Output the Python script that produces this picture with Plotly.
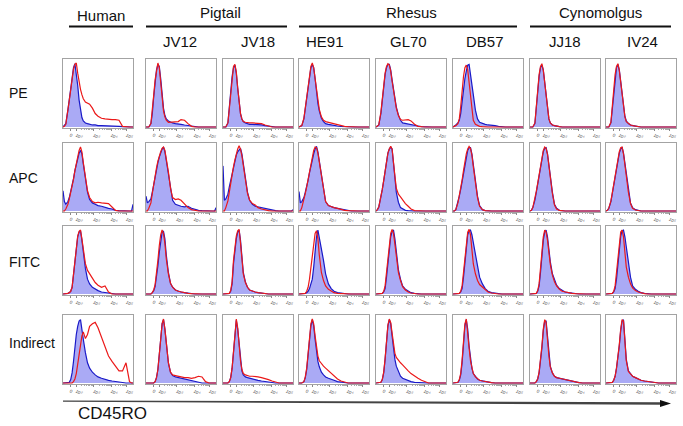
import math
import plotly.graph_objects as go

W, H = 683, 426

row_labels = ["PE", "APC", "FITC", "Indirect"]
col_labels = ["", "JV12", "JV18", "HE91", "GL70", "DB57", "JJ18", "IV24"]
species_labels = ["Human", "Pigtail", "Rhesus", "Cynomolgus"]
axis_title = "CD45RO"
tick_vals = [0.106, 0.19, 0.44, 0.69, 0.91]
tick_text = ["0", "10<sup>2</sup>", "10<sup>3</sup>", "10<sup>4</sup>", "10<sup>5</sup>"]

# fluorescence bins (display scale, 0..1 of the axis)
x_bins = [0.00, 0.02, 0.04, 0.07, 0.09, 0.11, 0.13, 0.15, 0.17, 0.19, 0.21, 0.23, 0.25, 0.27, 0.29, 0.32,
          0.35, 0.38, 0.42, 0.46, 0.50, 0.55, 0.60, 0.65, 0.70, 0.75, 0.80, 0.85, 0.90, 0.95, 0.98, 1.00]

# ---- PE row (% of mode) ----
pe_human_blue = [0, 2, 5, 25, 42, 55, 75, 88, 94, 80, 62, 40, 24, 14, 9, 6, 5, 4, 3, 3, 2, 2, 2, 1.5, 1.5, 1, 1, 0.5, 0, 0, 0, 0]
pe_human_red = [0, 1, 4, 22, 40, 55, 73, 86, 93, 95, 80, 66, 56, 48, 42, 37, 36, 34, 28, 20, 16, 13, 12, 11, 11, 11, 10, 1, 0, 0, 0, 0]
pe_jv12_blue = [0, 0, 0, 5, 20, 45, 68, 85, 93, 90, 72, 45, 28, 17, 12, 9, 7, 6, 5, 4, 4, 3, 2, 1, 0.5, 0, 0, 0, 0, 0, 0, 0]
pe_jv12_red = [0, 0, 0, 5, 22, 47, 70, 86, 95, 88, 68, 40, 24, 15, 10, 7, 7, 7, 8, 8, 11, 10, 5, 1, 0, 0, 0, 0, 0, 0, 0, 0]
pe_jv18_blue = [0, 0, 0, 6, 25, 52, 75, 88, 92, 80, 58, 35, 20, 12, 8, 6, 5, 4, 4, 4, 3, 3, 2, 1, 0.5, 0, 0, 0, 0, 0, 0, 0]
pe_jv18_red = [0, 0, 0, 6, 27, 55, 78, 90, 93, 82, 58, 35, 20, 12, 8, 7, 6, 6, 6, 6, 6, 5, 3, 1, 0, 0, 0, 0, 0, 0, 0, 0]
pe_he91_blue = [0, 1, 2, 12, 28, 45, 62, 77, 88, 93, 88, 72, 52, 35, 24, 13, 8, 5, 4, 3, 2, 1.5, 1, 0.5, 0, 0, 0, 0, 0, 0, 0, 0]
pe_he91_red = [0, 1, 2, 13, 30, 47, 64, 80, 90, 95, 88, 72, 54, 38, 26, 15, 10, 8, 7, 5, 4, 3, 2, 1, 0.5, 0, 0, 0, 0, 0, 0, 0]
pe_gl70_blue = [0, 1, 3, 20, 40, 57, 78, 88, 93, 93, 85, 70, 55, 42, 30, 18, 10, 6, 5, 4, 3, 2.5, 1.5, 0.5, 0, 0, 0, 0, 0, 0, 0, 0]
pe_gl70_red = [0, 1, 3, 22, 42, 60, 80, 90, 94, 92, 83, 68, 52, 40, 28, 17, 11, 10, 11, 11, 9, 4, 1, 0, 0, 0, 0, 0, 0, 0, 0, 0]
pe_db57_blue = [0, 1, 3, 6, 10, 20, 40, 58, 72, 83, 92, 93, 80, 62, 48, 25, 12, 7, 5, 4, 3, 3, 2, 1, 0, 0, 0, 0, 0, 0, 0, 0]
pe_db57_red = [0, 1, 2, 5, 12, 30, 55, 75, 88, 92, 85, 65, 40, 20, 10, 4, 2, 1, 0.5, 0, 0, 0, 0, 0, 0, 0, 0, 0, 0, 0, 0, 0]
pe_jj18_blue = [0, 0, 0, 5, 28, 55, 75, 88, 92, 85, 68, 45, 25, 12, 6, 3, 2, 1, 0.5, 0, 0, 0, 0, 0, 0, 0, 0, 0, 0, 0, 0, 0]
pe_jj18_red = [0, 0, 0, 6, 30, 58, 78, 90, 94, 84, 66, 44, 24, 12, 6, 3, 2, 1, 0.5, 0, 0, 0, 0, 0, 0, 0, 0, 0, 0, 0, 0, 0]
pe_iv24_blue = [0, 0, 0, 6, 28, 55, 76, 88, 93, 85, 68, 48, 30, 16, 9, 5, 3, 2, 1, 0.5, 0, 0, 0, 0, 0, 0, 0, 0, 0, 0, 0, 0]
pe_iv24_red = [0, 0, 0, 7, 30, 57, 78, 90, 94, 84, 66, 46, 28, 15, 8, 5, 3, 2, 1, 0.5, 0, 0, 0, 0, 0, 0, 0, 0, 0, 0, 0, 0]

# ---- APC row ----
apc_human_blue = [30, 14, 10, 14, 20, 28, 36, 48, 60, 70, 78, 86, 90, 85, 70, 48, 28, 17, 12, 10, 8, 7, 5, 4, 3, 1, 0.5, 0, 0, 0, 0, 10]
apc_human_red = [0, 0, 3, 10, 18, 27, 36, 47, 60, 72, 82, 90, 95, 88, 72, 50, 30, 20, 14, 12, 13, 12, 12, 11, 6, 1, 0, 0, 0, 0, 0, 0]
apc_jv12_blue = [22, 12, 14, 18, 28, 40, 50, 62, 72, 80, 87, 92, 95, 88, 75, 55, 32, 16, 10, 8, 7, 6, 7, 4, 2, 1, 0.5, 0, 0, 0, 0, 5]
apc_jv12_red = [0, 0, 4, 12, 26, 40, 52, 64, 74, 82, 88, 93, 95, 90, 78, 58, 34, 20, 17, 18, 16, 10, 5, 2, 0.5, 0, 0, 0, 0, 0, 0, 0]
apc_jv18_blue = [67, 16, 18, 25, 36, 46, 56, 67, 75, 83, 88, 91, 93, 85, 70, 48, 28, 16, 10, 7, 6, 5, 4, 3, 1.5, 0.5, 0, 0, 0, 0, 0, 2]
apc_jv18_red = [0, 0, 5, 15, 28, 42, 54, 66, 76, 85, 92, 97, 92, 82, 66, 45, 26, 16, 11, 9, 5, 3, 1.5, 0.5, 0, 0, 0, 0, 0, 0, 0, 0]
apc_he91_blue = [29, 12, 14, 20, 28, 36, 46, 57, 68, 77, 85, 92, 96, 88, 74, 52, 28, 14, 8, 6, 5, 4, 3, 1.5, 0.5, 0, 0, 0, 0, 0, 0, 0]
apc_he91_red = [0, 0, 5, 16, 26, 36, 48, 60, 72, 82, 90, 95, 94, 86, 72, 50, 28, 14, 8, 6, 5, 4, 2, 1, 0.5, 0, 0, 0, 0, 0, 0, 0]
apc_gl70_blue = [0, 2, 6, 20, 32, 45, 60, 76, 86, 92, 95, 92, 75, 50, 28, 13, 5, 3, 1, 0.5, 0, 0, 0, 0, 0, 0, 0, 0, 0, 0, 0, 0]
apc_gl70_red = [0, 2, 6, 20, 32, 45, 60, 76, 86, 92, 96, 92, 76, 52, 34, 25, 21, 16, 11, 7, 3, 0.5, 0, 0, 0, 0, 0, 0, 0, 0, 0, 0]
apc_db57_blue = [0, 0, 2, 12, 22, 32, 44, 58, 72, 83, 90, 94, 94, 85, 68, 42, 22, 8, 2, 0.5, 0, 0, 0, 0, 0, 0, 0, 0, 0, 0, 0, 0]
apc_db57_red = [0, 0, 2, 12, 23, 33, 46, 60, 74, 85, 92, 96, 93, 83, 66, 40, 20, 7, 2, 0.5, 0, 0, 0, 0, 0, 0, 0, 0, 0, 0, 0, 0]
apc_jj18_blue = [0, 1, 5, 16, 28, 40, 52, 66, 78, 88, 93, 94, 85, 68, 50, 28, 10, 4, 1, 0, 0, 0, 0, 0, 0, 0, 0, 0, 0, 0, 0, 0]
apc_jj18_red = [0, 1, 5, 17, 29, 41, 54, 68, 80, 90, 95, 93, 84, 66, 48, 26, 9, 3, 1, 0, 0, 0, 0, 0, 0, 0, 0, 0, 0, 0, 0, 0]
apc_iv24_blue = [0, 1, 4, 14, 26, 38, 50, 64, 76, 86, 92, 95, 86, 70, 52, 30, 12, 5, 2, 1, 0, 0, 0, 0, 0, 0, 0, 0, 0, 0, 0, 0]
apc_iv24_red = [0, 1, 4, 15, 27, 40, 52, 66, 78, 88, 94, 95, 85, 68, 50, 28, 11, 4, 1.5, 0.5, 0, 0, 0, 0, 0, 0, 0, 0, 0, 0, 0, 0]

# ---- FITC row ----
fitc_human_blue = [0, 0, 0, 1, 2, 4, 10, 28, 50, 72, 85, 92, 94, 80, 60, 38, 22, 15, 10, 7, 5, 3, 2, 1, 0, 0, 0, 0, 0, 0, 0, 0]
fitc_human_red = [0, 0, 0, 1, 2, 4, 10, 28, 50, 72, 86, 93, 95, 82, 64, 45, 35, 30, 22, 17, 13, 10, 12, 3, 0, 0, 0, 0, 0, 0, 0, 0]
fitc_jv12_blue = [0, 0, 0, 0, 2, 5, 11, 25, 42, 62, 80, 92, 93, 82, 58, 32, 16, 10, 6, 4, 3, 2, 1, 0.5, 0, 0, 0, 0, 0, 0, 0, 0]
fitc_jv12_red = [0, 0, 0, 0, 2, 6, 14, 30, 50, 72, 88, 95, 90, 75, 52, 30, 16, 10, 6, 4, 3, 2, 1, 0.5, 0, 0, 0, 0, 0, 0, 0, 0]
fitc_jv18_blue = [0, 0, 0, 0, 1, 4, 15, 45, 68, 82, 92, 95, 80, 52, 32, 18, 10, 6, 4, 3, 2, 1, 0.5, 0, 0, 0, 0, 0, 0, 0, 0, 0]
fitc_jv18_red = [0, 0, 0, 0, 1, 5, 18, 50, 72, 86, 94, 96, 76, 48, 30, 17, 10, 6, 4, 3, 2, 1, 0.5, 0, 0, 0, 0, 0, 0, 0, 0, 0]
fitc_he91_blue = [0, 0, 0, 0, 1, 2, 4, 8, 14, 22, 40, 65, 85, 95, 85, 68, 50, 30, 15, 8, 4, 2, 1, 0, 0, 0, 0, 0, 0, 0, 0, 0]
fitc_he91_red = [0, 0, 0, 0, 1, 4, 10, 22, 40, 58, 78, 90, 94, 82, 58, 32, 20, 12, 7, 4, 2, 1, 0.5, 0, 0, 0, 0, 0, 0, 0, 0, 0]
fitc_gl70_blue = [0, 0, 0, 0, 1, 3, 8, 25, 48, 70, 85, 93, 95, 82, 62, 36, 22, 12, 7, 4, 2, 1, 0, 0, 0, 0, 0, 0, 0, 0, 0, 0]
fitc_gl70_red = [0, 0, 0, 0, 1, 4, 12, 32, 55, 76, 90, 96, 90, 74, 54, 32, 20, 11, 6, 3, 1.5, 0.5, 0, 0, 0, 0, 0, 0, 0, 0, 0, 0]
fitc_db57_blue = [0, 0, 0, 0, 1, 3, 8, 25, 48, 72, 88, 94, 95, 88, 75, 58, 42, 25, 15, 8, 4, 2, 1, 0, 0, 0, 0, 0, 0, 0, 0, 0]
fitc_db57_red = [0, 0, 0, 0, 1, 4, 12, 32, 55, 78, 92, 96, 88, 66, 45, 30, 20, 14, 10, 6, 3, 1.5, 0.5, 0, 0, 0, 0, 0, 0, 0, 0, 0]
fitc_jj18_blue = [0, 0, 0, 0, 1, 4, 12, 32, 58, 80, 92, 95, 85, 65, 48, 30, 20, 13, 8, 5, 3, 2, 1, 0.5, 0, 0, 0, 0, 0, 0, 0, 0]
fitc_jj18_red = [0, 0, 0, 0, 1, 5, 15, 38, 64, 85, 95, 92, 80, 60, 44, 28, 18, 12, 7, 4, 3, 2, 1, 0.5, 0, 0, 0, 0, 0, 0, 0, 0]
fitc_iv24_blue = [0, 0, 0, 0, 1, 3, 8, 22, 45, 70, 86, 94, 95, 85, 68, 45, 25, 12, 7, 4, 2, 1, 0, 0, 0, 0, 0, 0, 0, 0, 0, 0]
fitc_iv24_red = [0, 0, 0, 0, 1, 4, 12, 32, 56, 78, 92, 95, 85, 62, 40, 25, 15, 9, 5, 3, 1.5, 0.5, 0, 0, 0, 0, 0, 0, 0, 0, 0, 0]

# ---- Indirect row ----
ind_human_blue = [0, 0, 0, 0, 1, 5, 15, 32, 55, 72, 84, 92, 94, 82, 65, 45, 30, 22, 16, 12, 9, 7, 5, 4, 3, 2, 1.5, 1, 0, 0, 0, 0]
ind_human_red = [0, 0, 0, 0, 0, 0, 0, 2, 6, 14, 28, 45, 58, 70, 76, 66, 72, 84, 88, 90, 82, 68, 52, 40, 32, 24, 18, 18, 30, 2, 0, 0]
ind_jv12_blue = [0, 0, 0, 0, 0, 0, 2, 8, 20, 38, 65, 88, 94, 80, 55, 30, 16, 11, 9, 8, 7, 6, 5, 4, 2, 1, 0, 0, 0, 0, 0, 0]
ind_jv12_red = [0, 0, 0, 0, 0, 0, 2, 8, 20, 38, 65, 88, 95, 80, 55, 30, 16, 12, 11, 10, 9, 8, 8, 7, 8, 10, 9, 2, 0, 0, 0, 0]
ind_jv18_blue = [0, 0, 0, 0, 2, 8, 22, 45, 75, 93, 80, 55, 32, 18, 12, 9, 8, 7, 6, 5, 4, 3, 2, 1, 0.5, 0, 0, 0, 0, 0, 0, 0]
ind_jv18_red = [0, 0, 0, 0, 2, 8, 22, 46, 76, 95, 82, 56, 33, 20, 14, 12, 11, 10, 10, 9, 9, 8, 7, 5, 3, 1, 0, 0, 0, 0, 0, 0]
ind_he91_blue = [0, 0, 0, 2, 8, 20, 40, 65, 85, 94, 85, 65, 45, 32, 24, 16, 12, 9, 7, 5, 4, 2, 1, 0.5, 0, 0, 0, 0, 0, 0, 0, 0]
ind_he91_red = [0, 0, 0, 2, 9, 22, 42, 68, 88, 95, 88, 70, 52, 40, 33, 28, 25, 22, 18, 14, 10, 6, 3, 1, 0, 0, 0, 0, 0, 0, 0, 0]
ind_gl70_blue = [0, 0, 0, 1, 5, 15, 35, 62, 85, 94, 88, 70, 50, 35, 25, 16, 10, 7, 5, 3, 2, 1, 0.5, 0, 0, 0, 0, 0, 0, 0, 0, 0]
ind_gl70_red = [0, 0, 0, 1, 5, 16, 36, 64, 86, 95, 90, 74, 56, 44, 38, 33, 30, 27, 22, 18, 14, 10, 7, 4, 1.5, 0, 0, 0, 0, 0, 0, 0]
ind_db57_blue = [0, 0, 0, 1, 4, 12, 30, 60, 85, 94, 80, 55, 35, 22, 14, 9, 6, 4, 3, 2, 1, 0.5, 0, 0, 0, 0, 0, 0, 0, 0, 0, 0]
ind_db57_red = [0, 0, 0, 1, 5, 14, 34, 65, 88, 95, 78, 52, 33, 21, 14, 9, 6, 4, 3, 2, 1, 0.5, 0, 0, 0, 0, 0, 0, 0, 0, 0, 0]
ind_jj18_blue = [0, 0, 0, 0, 2, 6, 15, 30, 52, 78, 92, 92, 65, 42, 25, 15, 10, 8, 7, 6, 5, 4, 2, 1, 0.5, 0, 0, 0, 0, 0, 0, 0]
ind_jj18_red = [0, 0, 0, 0, 2, 6, 16, 32, 55, 80, 94, 90, 62, 40, 24, 15, 10, 8, 7, 6, 5, 4, 2, 1, 0.5, 0, 0, 0, 0, 0, 0, 0]
ind_iv24_blue = [0, 0, 0, 0, 1, 4, 10, 22, 35, 55, 78, 92, 94, 70, 35, 18, 14, 10, 8, 6, 4, 3, 2, 1, 0.5, 0, 0, 0, 0, 0, 0, 0]
ind_iv24_red = [0, 0, 0, 0, 1, 4, 10, 22, 36, 57, 80, 94, 92, 66, 33, 17, 13, 10, 8, 6, 4, 3, 2, 1, 0.5, 0, 0, 0, 0, 0, 0, 0]

panels = [
    [(pe_human_blue, pe_human_red), (pe_jv12_blue, pe_jv12_red), (pe_jv18_blue, pe_jv18_red), (pe_he91_blue, pe_he91_red),
     (pe_gl70_blue, pe_gl70_red), (pe_db57_blue, pe_db57_red), (pe_jj18_blue, pe_jj18_red), (pe_iv24_blue, pe_iv24_red)],
    [(apc_human_blue, apc_human_red), (apc_jv12_blue, apc_jv12_red), (apc_jv18_blue, apc_jv18_red), (apc_he91_blue, apc_he91_red),
     (apc_gl70_blue, apc_gl70_red), (apc_db57_blue, apc_db57_red), (apc_jj18_blue, apc_jj18_red), (apc_iv24_blue, apc_iv24_red)],
    [(fitc_human_blue, fitc_human_red), (fitc_jv12_blue, fitc_jv12_red), (fitc_jv18_blue, fitc_jv18_red), (fitc_he91_blue, fitc_he91_red),
     (fitc_gl70_blue, fitc_gl70_red), (fitc_db57_blue, fitc_db57_red), (fitc_jj18_blue, fitc_jj18_red), (fitc_iv24_blue, fitc_iv24_red)],
    [(ind_human_blue, ind_human_red), (ind_jv12_blue, ind_jv12_red), (ind_jv18_blue, ind_jv18_red), (ind_he91_blue, ind_he91_red),
     (ind_gl70_blue, ind_gl70_red), (ind_db57_blue, ind_db57_red), (ind_jj18_blue, ind_jj18_red), (ind_iv24_blue, ind_iv24_red)],
]
for row in panels:
    for b, r in row:
        assert len(b) == len(x_bins) and len(r) == len(x_bins), (len(b), len(r))

# minor (log) tick marks between the labelled decades
decade_pos = [0.19, 0.44, 0.69, 0.91]
minor_vals = []
for d0, d1 in zip(decade_pos[:-1], decade_pos[1:]):
    for k in range(2, 10):
        minor_vals.append(d0 + (d1 - d0) * math.log10(k))

# ---- geometry & style ----
col_left = [63, 146, 223, 299, 376, 453, 530, 606]
row_top = [59, 143, 226, 315]
PW, PH = 70, 69
BLUE = "rgb(25,25,200)"
FILL = "rgb(170,170,245)"
RED = "rgb(235,25,25)"
FRAME = "#a3a3a3"
FONT = "Arial, Liberation Sans, sans-serif"
TXT = "#111111"


def px(x):
    return x / W


def py(y):
    return 1 - y / H


fig = go.Figure()
axes = {}
n = 0
for ri, top in enumerate(row_top):
    for ci, left in enumerate(col_left):
        n += 1
        xa = "x" if n == 1 else f"x{n}"
        ya = "y" if n == 1 else f"y{n}"
        blue, red = panels[ri][ci]
        fig.add_trace(go.Scatter(x=x_bins, y=blue, xaxis=xa, yaxis=ya, mode="lines",
                                 line=dict(color=BLUE, width=1.2), fill="tozeroy", fillcolor=FILL,
                                 hoverinfo="skip", showlegend=False))
        fig.add_trace(go.Scatter(x=x_bins, y=red, xaxis=xa, yaxis=ya, mode="lines",
                                 line=dict(color=RED, width=1.2),
                                 hoverinfo="skip", showlegend=False))
        kx = "xaxis" if n == 1 else f"xaxis{n}"
        ky = "yaxis" if n == 1 else f"yaxis{n}"
        axes[kx] = dict(domain=[px(left), px(left + PW)], anchor=ya, range=[0, 1],
                        showline=True, mirror=True, linecolor=FRAME, linewidth=1,
                        showgrid=False, zeroline=False, tickmode="array",
                        tickvals=tick_vals, ticktext=tick_text, ticks="outside",
                        ticklen=2, tickwidth=0.6, tickcolor="#888",
                        minor=dict(tickvals=minor_vals, ticks="outside", ticklen=1.2,
                                   tickwidth=0.5, tickcolor="#aaa", showgrid=False),
                        tickfont=dict(size=4.5, color="#555", family=FONT), fixedrange=True)
        axes[ky] = dict(domain=[py(top + PH), py(top)], anchor=xa, range=[-1.5, 101],
                        showline=True, mirror=True, linecolor=FRAME, linewidth=1,
                        showgrid=False, zeroline=False, showticklabels=False, ticks="",
                        fixedrange=True)

annotations = []
shapes = []

# species headers with underlines
species_pos = [(101, 16, 69, 133), (220, 13, 146, 287), (411, 13, 299, 517), (600, 13, 530, 671)]
for name, (cx, cy, x0, x1) in zip(species_labels, species_pos):
    annotations.append(dict(text=name, x=px(cx), y=py(cy), xref="paper", yref="paper",
                            xanchor="center", yanchor="middle", showarrow=False,
                            font=dict(size=15, color=TXT, family=FONT)))
    shapes.append(dict(type="line", xref="paper", yref="paper", x0=px(x0), x1=px(x1),
                       y0=py(26.5), y1=py(26.5), line=dict(color="#111", width=1.8)))

# animal IDs
id_x = [0, 180, 258, 325, 408, 485, 565, 642]
for name, cx in zip(col_labels, id_x):
    if name:
        annotations.append(dict(text=name, x=px(cx), y=py(42), xref="paper", yref="paper",
                                xanchor="center", yanchor="middle", showarrow=False,
                                font=dict(size=15, color=TXT, family=FONT)))

# row labels
row_y = [93, 178, 262, 343]
for name, cy in zip(row_labels, row_y):
    annotations.append(dict(text=name, x=px(7), y=py(cy), xref="paper", yref="paper",
                            xanchor="left", yanchor="middle", showarrow=False,
                            font=dict(size=14, color=TXT, family=FONT)))

# axis title and arrow
annotations.append(dict(text=axis_title, x=px(76), y=py(413), xref="paper", yref="paper",
                        xanchor="left", yanchor="middle", showarrow=False,
                        font=dict(size=17, color=TXT, family=FONT)))
wedge = (f"M {px(63)} {py(400.5)} L {px(662)} {py(402.2)} L {px(662)} {py(404.8)} "
         f"L {px(63)} {py(401.8)} Z")
shapes.append(dict(type="path", xref="paper", yref="paper", path=wedge,
                   fillcolor="#444", line=dict(width=0)))
head = (f"M {px(660)} {py(400)} L {px(671)} {py(403.5)} L {px(660)} {py(407)} Z")
shapes.append(dict(type="path", xref="paper", yref="paper", path=head,
                   fillcolor="#111", line=dict(width=0)))

fig.update_layout(width=W, height=H, margin=dict(l=0, r=0, t=0, b=0),
                  paper_bgcolor="white", plot_bgcolor="white",
                  annotations=annotations, shapes=shapes, showlegend=False, **axes)

fig.write_html("out.html", config={"displayModeBar": False},
               post_script="document.body.style.margin='0';document.body.style.padding='0';")
